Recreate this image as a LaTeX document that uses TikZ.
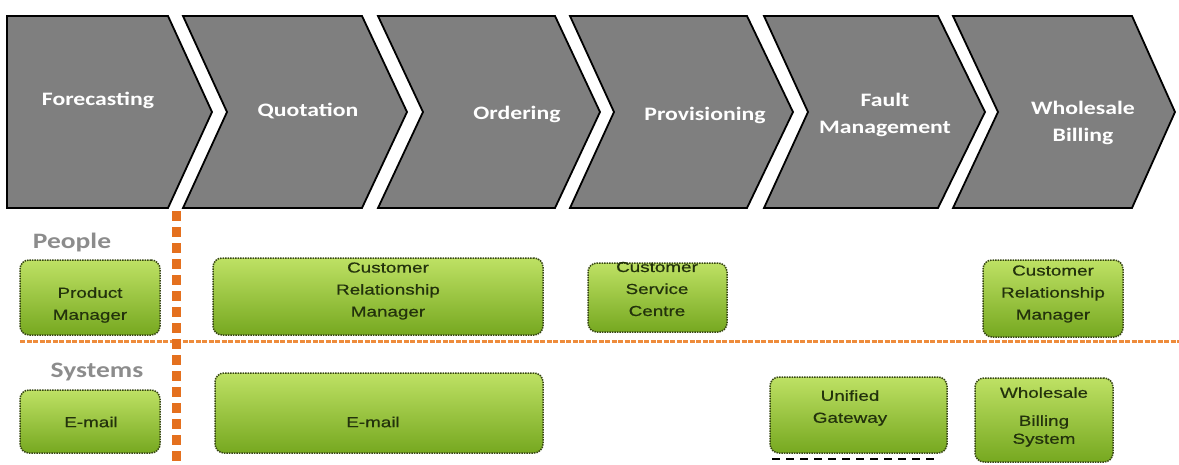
\documentclass[tikz,border=0pt]{standalone}
\usepackage{fontspec}
\usepackage{tikz}
\newfontfamily\chevfont[FakeStretch=1.25]{Carlito}
\newfontfamily\boxfont[FakeStretch=1.3,FakeBold=0.6]{Liberation Sans}
\definecolor{chev_gray}{RGB}{127,127,127}
\definecolor{lane_gray}{RGB}{140,140,140}
\definecolor{sep_orange}{RGB}{228,112,30}
\definecolor{line_orange}{RGB}{238,140,60}
\definecolor{box_top}{RGB}{190,225,100}
\definecolor{box_bot}{RGB}{118,168,32}
\definecolor{box_edge}{RGB}{55,70,20}
\definecolor{box_text}{RGB}{35,50,12}

\begin{document}
\begin{tikzpicture}[x=1pt,y=-1pt]
    \tikzstyle{chev}=[draw=black, line width=1.8pt, fill=chev_gray]
    \tikzstyle{chevtext}=[text=white, align=center, font=\chevfont\bfseries\fontsize{19}{27}\selectfont]
    \tikzstyle{lane}=[text=lane_gray, font=\chevfont\bfseries\fontsize{22}{25}\selectfont]
    \tikzstyle{gbox}=[rounded corners=9pt, draw=box_edge, densely dotted, line width=1.5pt, top color=box_top, bottom color=box_bot, inner sep=0pt]
    \tikzstyle{boxtext}=[text=box_text, align=center, inner sep=0pt, font=\boxfont\fontsize{14.5}{22}\selectfont]
    \tikzstyle{vsep}=[sep_orange, line width=9pt, dash pattern=on 10pt off 6pt]
    \tikzstyle{hsep}=[line_orange, line width=3pt, dash pattern=on 5pt off 1.5pt]
    \tikzstyle{ugdash}=[black, line width=2.5pt, dash pattern=on 8pt off 6pt]

    \useasboundingbox (0,0) rectangle (1179,464);

    % value chain
    \draw[chev] (7,16) -- (168,16) -- (212,112) -- (168,208) -- (7,208) -- cycle;
    \draw[chev] (183,16) -- (362,16) -- (407,112) -- (362,208) -- (183,208) -- (227,112) -- cycle;
    \draw[chev] (378,16) -- (555,16) -- (600,112) -- (555,208) -- (378,208) -- (423,112) -- cycle;
    \draw[chev] (570,16) -- (747,16) -- (793,112) -- (747,208) -- (570,208) -- (614,112) -- cycle;
    \draw[chev] (764,16) -- (938,16) -- (985,112) -- (938,208) -- (764,208) -- (808,112) -- cycle;
    \draw[chev] (953,16) -- (1132,16) -- (1175,112) -- (1132,208) -- (953,208) -- (998,112) -- cycle;

    \node[chevtext] (fc) at (98,100)   {Forecasting};
    \node[chevtext] (qt) at (308,111)  {Quotation};
    \node[chevtext] (od) at (517,114)  {Ordering};
    \node[chevtext] (pv) at (705,115)  {Provisioning};
    \node[chevtext] (fm) at (885,115)  {Fault\\Management};
    \node[chevtext] (wb) at (1083,123) {Wholesale\\Billing};

    % lanes
    \node[lane] (pp) at (72,243) {People};
    \node[lane] (sy) at (97,372) {Systems};

    \coordinate (hl)   at (20,341);
    \coordinate (hr)   at (1179,341);
    \coordinate (vtop) at (176,211);
    \coordinate (vbot) at (176,464);

    \path
     (hl) edge[hsep] (hr)
     (vtop) edge[vsep] (vbot)
     ;

    % people
    \node[gbox, minimum width=140, minimum height=75] (pm)   at (90,297.5)   {};
    \node[gbox, minimum width=330, minimum height=77] (crm1) at (378,296.5)  {};
    \node[gbox, minimum width=139, minimum height=69] (csc)  at (657.5,297.5) {};
    \node[gbox, minimum width=140, minimum height=77] (crm2) at (1053,298.5) {};

    \node[boxtext] (pmt)   at (90,305)   {Product\\Manager};
    \node[boxtext] (crm1t) at (388,291)  {Customer\\Relationship\\Manager};
    \node[boxtext] (csct)  at (657,289)  {Customer\\Service\\Centre};
    \node[boxtext] (crm2t) at (1053,294) {Customer\\Relationship\\Manager};

    % systems
    \node[gbox, minimum width=140, minimum height=63] (em1) at (90,421.5)  {};
    \node[gbox, minimum width=328, minimum height=80] (em2) at (379,413)   {};
    \node[gbox, minimum width=177, minimum height=76] (ug)  at (858.5,415) {};
    \node[gbox, minimum width=138, minimum height=84] (wbs) at (1044,420)  {};

    \node[boxtext] (em1t) at (91,422)   {E-mail};
    \node[boxtext] (em2t) at (373,422)  {E-mail};
    \node[boxtext] (ugt)  at (850,408)  {Unified\\Gateway};
    \node[boxtext] (wbst) at (1044,417) {Wholesale\\[6pt]Billing\\[-4pt]System};

    \coordinate (ugl) at (772,459);
    \coordinate (ugr) at (935,459);
    \path (ugl) edge[ugdash] (ugr);
\end{tikzpicture}
\end{document}
